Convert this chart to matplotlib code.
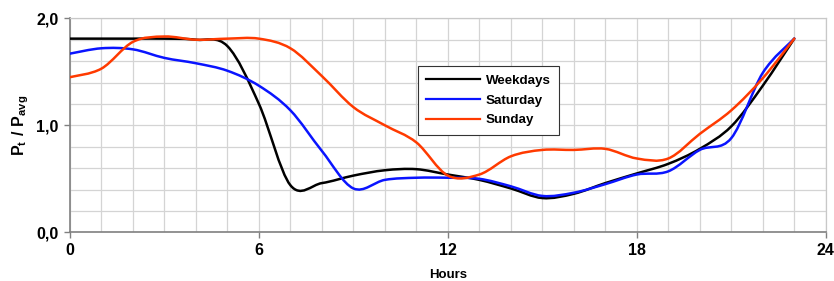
import numpy as np
import matplotlib.pyplot as plt
from matplotlib.path import Path
from matplotlib.patches import PathPatch
from matplotlib.lines import Line2D
from matplotlib.ticker import MultipleLocator, FuncFormatter

plt.rcParams['font.family'] = ['Liberation Sans', 'DejaVu Sans']
plt.rcParams['mathtext.fontset'] = 'custom'
plt.rcParams['mathtext.rm'] = 'Liberation Sans'
plt.rcParams['mathtext.bf'] = 'Liberation Sans:bold'

# hourly load profile, P_t / P_avg
hours = np.arange(24)
weekdays = [1.81, 1.81, 1.81, 1.81, 1.80, 1.74, 1.20, 0.44, 0.46, 0.53, 0.58, 0.59,
            0.54, 0.49, 0.41, 0.32, 0.36, 0.46, 0.55, 0.64, 0.78, 0.99, 1.37, 1.81]
saturday = [1.67, 1.72, 1.71, 1.63, 1.58, 1.51, 1.37, 1.14, 0.76, 0.41, 0.49, 0.51,
            0.51, 0.50, 0.43, 0.34, 0.37, 0.45, 0.54, 0.57, 0.77, 0.88, 1.49, 1.81]
sunday = [1.45, 1.53, 1.78, 1.83, 1.80, 1.81, 1.81, 1.72, 1.46, 1.17, 1.00, 0.84,
          0.53, 0.54, 0.71, 0.77, 0.77, 0.78, 0.69, 0.69, 0.92, 1.14, 1.44, 1.81]

series = [("Weekdays", weekdays, "#000000"),
          ("Saturday", saturday, "#0a14ff"),
          ("Sunday", sunday, "#ff3a00")]


def smooth_path(x, y):
    # excel-like smoothed line: cubic bezier through every point
    pts = np.column_stack([np.asarray(x, float), np.asarray(y, float)])
    n = len(pts)
    verts = [pts[0]]
    codes = [Path.MOVETO]
    for i in range(n - 1):
        p0 = pts[max(i - 1, 0)]
        p1 = pts[i]
        p2 = pts[i + 1]
        p3 = pts[min(i + 2, n - 1)]
        verts += [p1 + (p2 - p0) / 6, p2 - (p3 - p1) / 6, p2]
        codes += [Path.CURVE4] * 3
    return Path(verts, codes)


fig = plt.figure(figsize=(8.34, 2.81), dpi=100)
ax = fig.add_axes([0.0839, 0.1733, 0.9062, 0.7615])

handles = []
for name, vals, col in series:
    ax.add_patch(PathPatch(smooth_path(hours, vals), fill=False, edgecolor=col,
                           lw=1.8, capstyle='round', joinstyle='round', zorder=3))
    handles.append(Line2D([], [], color=col, lw=1.6, label=name))

ax.set_xlim(0, 24)
ax.set_ylim(0, 2.0)
ax.xaxis.set_major_locator(MultipleLocator(6))
ax.xaxis.set_minor_locator(MultipleLocator(1))
ax.yaxis.set_major_locator(MultipleLocator(1.0))
ax.yaxis.set_minor_locator(MultipleLocator(0.2))
ax.yaxis.set_major_formatter(FuncFormatter(lambda v, p: f"{v:.1f}".replace('.', ',')))
ax.grid(True, which='both', color='#d4d4d4', lw=0.9, zorder=0)
ax.set_axisbelow(True)

ax.tick_params(which='major', direction='out', length=4, width=1, color='#808080',
               labelsize=11.5, pad=4)
ax.tick_params(which='minor', length=0)
for lab in ax.get_xticklabels() + ax.get_yticklabels():
    lab.set_fontweight('bold')

for s in ['left', 'bottom']:
    ax.spines[s].set_color('#808080')
    ax.spines[s].set_linewidth(1.2)
for s in ['top', 'right']:
    ax.spines[s].set_color('#c8c8c8')
    ax.spines[s].set_linewidth(0.9)

ax.set_ylabel(r'$\mathbf{P_t\ /\ P_{avg}}$', fontsize=11.5)
ax.yaxis.set_label_coords(-0.051, 0.5)
ax.set_xlabel('Hours', fontsize=9.5, fontweight='bold')
ax.xaxis.set_label_coords(0.5, -0.172)

leg = ax.legend(handles=handles, loc='upper left', bbox_to_anchor=(0.46, 0.777),
                borderaxespad=0, fancybox=False, framealpha=1, edgecolor='#333333',
                prop={'weight': 'bold', 'size': 9.6}, handlelength=4.0,
                handletextpad=0.45, labelspacing=0.55, borderpad=0.65)
leg.get_frame().set_linewidth(0.8)

fig.savefig('out.png', dpi=100)
